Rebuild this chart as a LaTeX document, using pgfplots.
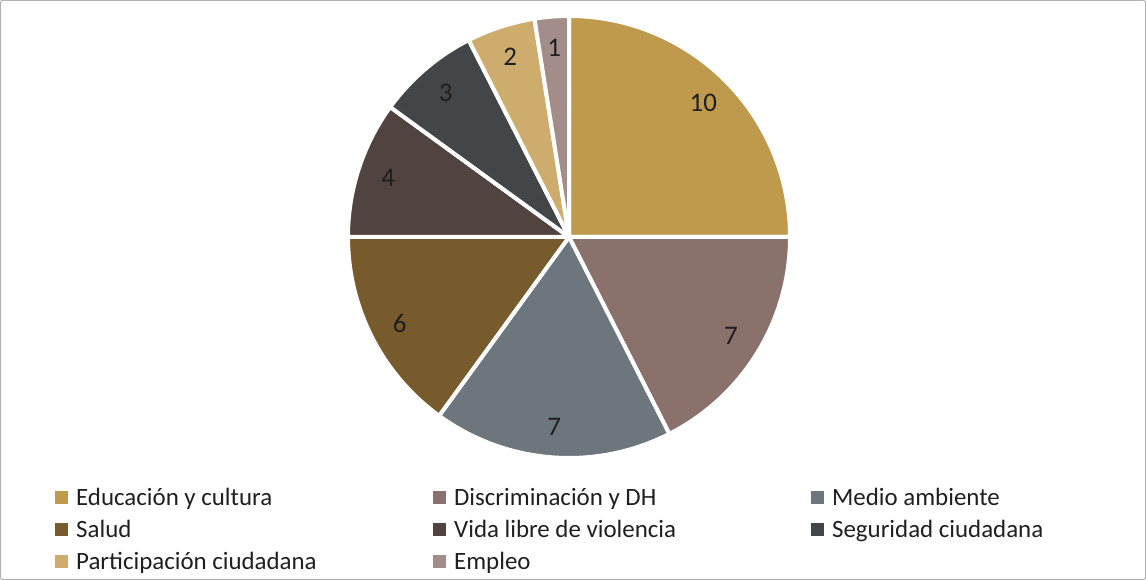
\documentclass[border=0pt]{standalone}
\usepackage{pgfplots}
\pgfplotsset{compat=1.18}
\usepackage{pgfplotstable}
\usepackage{fontspec}
\setmainfont{Carlito}
\definecolor{c0}{HTML}{BF9A4C}
\definecolor{c1}{HTML}{8A716B}
\definecolor{c2}{HTML}{6E767D}
\definecolor{c3}{HTML}{775B2C}
\definecolor{c4}{HTML}{514340}
\definecolor{c5}{HTML}{434649}
\definecolor{c6}{HTML}{CDAC6E}
\definecolor{c7}{HTML}{A28D88}
\pgfplotstableread[col sep=comma]{
name,value
Educación y cultura,10
Discriminación y DH,7
Medio ambiente,7
Salud,6
Vida libre de violencia,4
Seguridad ciudadana,3
Participación ciudadana,2
Empleo,1
}\piedata
\newcommand\legbox[1]{\makebox[361bp][l]{\hspace{6bp}#1}}
\newcommand\legnat[1]{\hspace{6bp}#1}
\begin{document}
\begin{tikzpicture}
\pgfplotstablegetrowsof{\piedata}
\pgfmathtruncatemacro\nrows{\pgfplotsretval-1}
\def\total{0}
\pgfplotsforeachungrouped \i in {0,...,\nrows}{%
  \pgfplotstablegetelem{\i}{value}\of\piedata
  \pgfmathsetmacro\total{\total+\pgfplotsretval}%
}
\begin{axis}[
  width=1146bp, height=580bp, scale only axis,
  xmin=0, xmax=1146, ymin=0, ymax=580,
  hide axis, clip=false,
  legend columns=3,
  legend style={at={(axis cs:55,94)}, anchor=north west, draw=none, fill=none,
    font=\fontsize{25}{30}\selectfont, text=black!88, row sep=9bp, column sep=0pt,
    inner sep=0pt, cells={anchor=west}},
  legend image code/.code={\fill[#1, draw=none] (0bp,-6.5bp) rectangle (13bp,6.5bp);},
]
\def\cx{569}
\def\cy{343}
\def\R{221}
\def\start{90}
\pgfplotsforeachungrouped \i in {0,...,\nrows}{%
  \pgfplotstablegetelem{\i}{value}\of\piedata
  \let\v\pgfplotsretval
  \pgfmathsetmacro\ende{\start-360*\v/\total}%
  \pgfmathsetmacro\midang{(\start+\ende)/2}%
  \pgfmathsetmacro\lx{\cx+190*cos(\midang)}%
  \pgfmathsetmacro\ly{\cy+190*sin(\midang)}%
  \edef\cmd{%
    \noexpand\addplot[fill=c\i, draw=white, line width=4bp, line join=round,
      domain=\ende:\start, samples=90, variable=\noexpand\t, forget plot]
      ({\cx+\R*cos(\noexpand\t)},{\cy+\R*sin(\noexpand\t)}) -- (axis cs:\cx,\cy) -- cycle;
    \noexpand\node[font=\noexpand\fontsize{27}{32}\noexpand\selectfont, text=black!88] at (axis cs:\lx,\ly) {\v};
  }%
  \cmd
  \let\start\ende
}
\pgfplotsforeachungrouped \i in {0,...,\nrows}{%
  \pgfplotstablegetelem{\i}{name}\of\piedata
  \let\nm\pgfplotsretval
  \pgfmathtruncatemacro\col{mod(\i,3)}%
  \ifnum\col=2
    \edef\cmd{\noexpand\addlegendimage{fill=c\i, draw=none}%
      \noexpand\addlegendentry{\noexpand\legnat{\nm}}}%
  \else
    \edef\cmd{\noexpand\addlegendimage{fill=c\i, draw=none}%
      \noexpand\addlegendentry{\noexpand\legbox{\nm}}}%
  \fi
  \cmd
}
\draw[black!30, line width=1bp, rounded corners=2bp] (axis cs:0.5,0.5) rectangle (axis cs:1145.5,579.5);
\end{axis}
\end{tikzpicture}
\end{document}
